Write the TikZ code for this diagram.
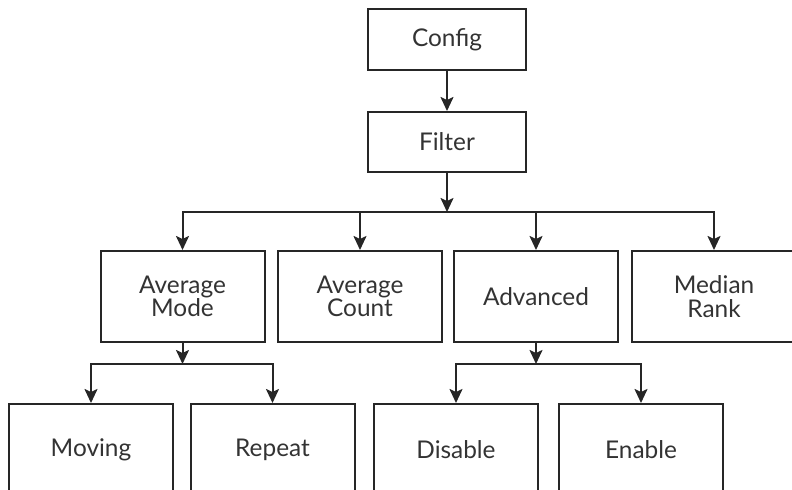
\documentclass[tikz,border=0pt]{standalone}
\usepackage{fontspec}
\setmainfont{Lato}
\usetikzlibrary{arrows.meta}
\begin{document}
\begin{tikzpicture}[x=0.5pt,y=-0.5pt,
  box/.style={draw=black!85, line width=1pt, align=center, inner sep=0pt,
    minimum width=82pt, minimum height=45.5pt, text=black!80,
    font=\fontsize{12.2}{11.8}\selectfont},
  link/.style={draw=black!85, line width=1pt,
    -{Stealth[length=7pt,width=6.5pt,inset=1.5pt]}}]
\useasboundingbox (0,0) rectangle (792,490);
\clip (0,0) rectangle (792,490);
\node[box, minimum width=79pt, minimum height=30.5pt] (config) at (447,39.5) {Config};
\node[box, minimum width=79pt, minimum height=30pt] (filter) at (447,142) {Filter};
\node[box] (avgmode) at (182.5,296.5) {Average\\Mode};
\node[box] (avgcount) at (360,296.5) {Average\\Count};
\node[box] (advanced) at (536,296.5) {Advanced};
\node[box] (median) at (714,296.5) {Median\\Rank};
\node[box] (moving) at (91,449.5) {Moving};
\node[box] (repeat) at (272.5,449.5) {Repeat};
\node[box] (disable) at (456,449.5) {Disable};
\node[box] (enable) at (641,449.5) {Enable};
\coordinate (bus) at (447,212);
\coordinate (forkmode) at (182.5,364);
\coordinate (forkadv) at (536,364);
\draw[link] (config) -- (filter);
\draw[link] (filter) -- (bus);
\draw[link] (bus) -| (avgmode);
\draw[link] (bus) -| (median);
\draw[link] (avgcount |- bus) -- (avgcount);
\draw[link] (advanced |- bus) -- (advanced);
\draw[link] (avgmode) -- (forkmode);
\draw[link] (forkmode) -| (moving);
\draw[link] (forkmode) -| (repeat);
\draw[link] (advanced) -- (forkadv);
\draw[link] (forkadv) -| (disable);
\draw[link] (forkadv) -| (enable);
\end{tikzpicture}
\end{document}
